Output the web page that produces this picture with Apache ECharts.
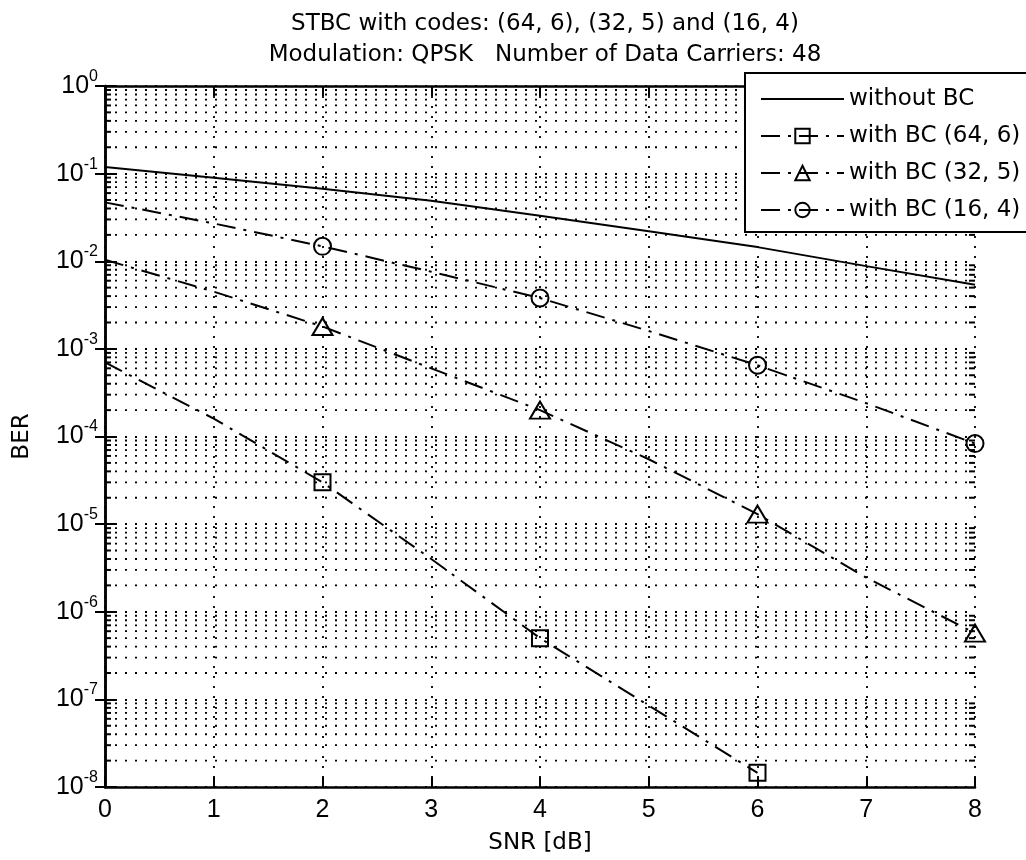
<!DOCTYPE html>
<html>
<head>
<meta charset="utf-8">
<script src="https://cdn.jsdelivr.net/npm/echarts@6/dist/echarts.min.js"></script>
<style>
  html, body { margin: 0; padding: 0; background: #ffffff; }
  #chart { width: 1026px; height: 860px; }
</style>
</head>
<body>
<div id="chart"></div>
<script>
// SNR points (dB)
const snr = [0, 1, 2, 3, 4, 5, 6, 7, 8];
// BER curves
const berNoBC  = [0.119, 0.090, 0.067, 0.049, 0.033, 0.022, 0.0145, 0.0088, 0.0054];
const ber16_4  = [0.047, 0.027, 0.0148, 0.0076, 0.0038, 0.0016, 6.5e-4, 2.4e-4, 8.3e-5];
const ber32_5  = [0.0104, 0.0045, 1.8e-3, 6.0e-4, 2.0e-4, 5.5e-5, 1.3e-5, 2.45e-6, 5.7e-7];
const ber64_6  = [7.0e-4, 1.6e-4, 3.0e-5, 4.0e-6, 5.0e-7, 8.5e-8, 1.45e-8];
// SNR values that carry a marker
const markerSnr = [2, 4, 6, 8];
// axis ticks
const xTicks = [0, 1, 2, 3, 4, 5, 6, 7, 8];
const yExponents = [-8, -7, -6, -5, -4, -3, -2, -1, 0];
const seriesNames = ['without BC', 'with BC (64, 6)', 'with BC (32, 5)', 'with BC (16, 4)'];

const FONT = "'Liberation Sans', Arial, Helvetica, sans-serif";
const WIDE = "'DejaVu Sans', Verdana, sans-serif";
const xMin = xTicks[0], xMax = xTicks[xTicks.length - 1];
const yMin = Math.pow(10, yExponents[0]), yMax = Math.pow(10, yExponents[yExponents.length - 1]);

// minor log grid values: 2..9 x 10^k
const minorValues = [];
for (let e = yExponents[0]; e < yExponents[yExponents.length - 1]; e++) {
  for (let m = 2; m <= 9; m++) minorValues.push([xMin, m * Math.pow(10, e)]);
}

function points(ber, withMarkers) {
  return ber.map((v, i) => {
    const item = { value: [snr[i], v] };
    if (withMarkers && markerSnr.indexOf(snr[i]) < 0) item.symbol = 'none';
    return item;
  });
}

const dashDot = [19, 8, 3, 8];
const clear = 'rgba(255,255,255,0)';
const markerStyle = { color: clear, borderColor: '#000', borderWidth: 2 };

const chart = echarts.init(document.getElementById('chart'), null, { renderer: 'canvas' });

const axisLabelRich = {
  b: { fontSize: 25, fontFamily: FONT, color: '#000' },
  s: { fontSize: 16, fontFamily: FONT, color: '#000', padding: [0, 0, 19, 0] }
};

chart.setOption({
  backgroundColor: '#ffffff',
  animation: false,
  title: {
    text: 'STBC with codes: (64, 6), (32, 5) and (16, 4)\nModulation: QPSK   Number of Data Carriers: 48',
    left: 540,
    top: 4,
    textAlign: 'center',
    textStyle: { fontFamily: WIDE, fontSize: 23, fontWeight: 'normal', color: '#000', lineHeight: 31 }
  },
  legend: {
    data: [
      { name: seriesNames[0], itemStyle: { color: clear, borderColor: clear, borderWidth: 0 } },
      seriesNames[1], seriesNames[2], seriesNames[3]
    ],
    orient: 'vertical',
    left: 745,
    top: 73,
    padding: [13, 24, 9, 15],
    itemWidth: 83,
    itemHeight: 18,
    itemGap: 11,
    backgroundColor: '#ffffff',
    borderColor: '#000',
    borderWidth: 2,
    borderRadius: 0,
    textStyle: { fontFamily: WIDE, fontSize: 23, color: '#000', lineHeight: 26 }
  },
  grid: { left: 105, right: 51, top: 86, bottom: 72 },
  xAxis: [
    {
      type: 'value', min: xMin, max: xMax, interval: 1, position: 'bottom',
      name: 'SNR [dB]', nameLocation: 'middle', nameGap: 45,
      nameTextStyle: { fontFamily: WIDE, fontSize: 23, color: '#000' },
      axisLine: { show: true, lineStyle: { color: '#000', width: 2.5 } },
      axisTick: { show: true, inside: true, length: 10, lineStyle: { color: '#000', width: 2 } },
      axisLabel: { fontFamily: FONT, fontSize: 25, color: '#000', margin: 11 },
      splitLine: { show: true, lineStyle: { color: '#000', width: 1.8, type: [2, 8] } }
    },
    {
      type: 'value', min: xMin, max: xMax, interval: 1, position: 'top',
      axisLine: { show: true, lineStyle: { color: '#000', width: 2.5 } },
      axisTick: { show: true, inside: true, length: 10, lineStyle: { color: '#000', width: 2 } },
      axisLabel: { show: false },
      splitLine: { show: false }
    }
  ],
  yAxis: [
    {
      type: 'log', logBase: 10, min: yMin, max: yMax, interval: 1, splitNumber: 8, position: 'left',
      name: 'BER', nameLocation: 'middle', nameGap: 71, nameRotate: 90,
      nameTextStyle: { fontFamily: WIDE, fontSize: 23, color: '#000' },
      axisLine: { show: true, lineStyle: { color: '#000', width: 2.5 } },
      axisTick: { show: true, inside: true, length: 10, lineStyle: { color: '#000', width: 2 } },
      axisLabel: {
        margin: 7,
        formatter: v => '{b|10}{s|' + Math.round(Math.log10(v)) + '}',
        rich: axisLabelRich
      },
      splitLine: { show: true, lineStyle: { color: '#000', width: 1.8, type: [2, 8] } }
    },
    {
      type: 'log', logBase: 10, min: yMin, max: yMax, interval: 1, splitNumber: 8, position: 'right',
      axisLine: { show: true, lineStyle: { color: '#000', width: 2.5 } },
      axisTick: { show: true, inside: true, length: 10, lineStyle: { color: '#000', width: 2 } },
      axisLabel: { show: false },
      splitLine: { show: false }
    }
  ],
  series: [
    {
      // minor log gridlines and minor ticks on both sides
      type: 'custom',
      name: 'minor',
      silent: true,
      z: 1,
      data: minorValues,
      encode: { x: 0, y: 1 },
      renderItem: (params, api) => {
        const v = api.value(1);
        const l = api.coord([xMin, v]);
        const r = api.coord([xMax, v]);
        const tick = { stroke: '#000', lineWidth: 2 };
        return {
          type: 'group',
          children: [
            { type: 'line', shape: { x1: l[0], y1: l[1], x2: r[0], y2: r[1] },
              style: { stroke: '#000', lineWidth: 1.8, lineDash: [2, 8] } },
            { type: 'line', shape: { x1: l[0], y1: l[1], x2: l[0] + 6, y2: l[1] }, style: tick },
            { type: 'line', shape: { x1: r[0] - 6, y1: r[1], x2: r[0], y2: r[1] }, style: tick }
          ]
        };
      }
    },
    {
      name: seriesNames[0], type: 'line', symbol: 'none', z: 5,
      lineStyle: { color: '#000', width: 2, type: 'solid' },
      itemStyle: { color: clear },
      data: points(berNoBC, false)
    },
    {
      name: seriesNames[1], type: 'line', symbol: 'rect', symbolSize: 16, z: 5,
      lineStyle: { color: '#000', width: 2, type: dashDot },
      itemStyle: markerStyle,
      data: points(ber64_6, true)
    },
    {
      name: seriesNames[2], type: 'line', symbol: 'triangle', symbolSize: [20, 17], z: 5,
      lineStyle: { color: '#000', width: 2, type: dashDot },
      itemStyle: markerStyle,
      data: points(ber32_5, true)
    },
    {
      name: seriesNames[3], type: 'line', symbol: 'circle', symbolSize: 17, z: 5,
      lineStyle: { color: '#000', width: 2, type: dashDot },
      itemStyle: markerStyle,
      data: points(ber16_4, true)
    }
  ]
});
</script>
</body>
</html>
